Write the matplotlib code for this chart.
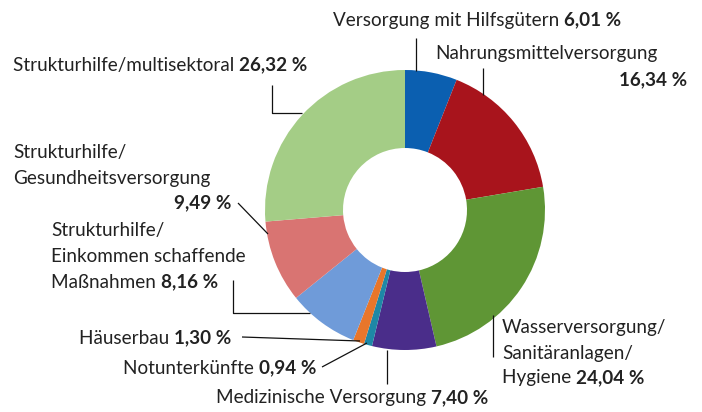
import matplotlib
matplotlib.use("Agg")
import matplotlib.pyplot as plt

# ---- data ----
categories = [
    "Versorgung mit Hilfsgütern",
    "Nahrungsmittelversorgung",
    "Wasserversorgung/Sanitäranlagen/Hygiene",
    "Medizinische Versorgung",
    "Notunterkünfte",
    "Häuserbau",
    "Strukturhilfe/Einkommen schaffende Maßnahmen",
    "Strukturhilfe/Gesundheitsversorgung",
    "Strukturhilfe/multisektoral",
]
values = [6.01, 16.34, 24.04, 7.40, 0.94, 1.30, 8.16, 9.49, 26.32]
value_labels = ["6,01 %", "16,34 %", "24,04 %", "7,40 %", "0,94 %",
                "1,30 %", "8,16 %", "9,49 %", "26,32 %"]

colors = ["#0b5fb0", "#a8141c", "#5f9635", "#4a2d8a", "#1e88a6",
          "#e8762b", "#6f9bd9", "#d97472", "#a4cd86"]

FONT = ["Lato", "DejaVu Sans"]
FS = 13.6
TXT = "#222222"
W, H = 702, 412

fig = plt.figure(figsize=(W / 100, H / 100), dpi=100)
ax = fig.add_axes([0, 0, 1, 1])

def Y(y):
    return H - y

cx, cy, R, r_in = 405, 210, 140, 62
ax.pie(values, colors=colors, startangle=90, counterclock=False,
       radius=R, center=(cx, Y(cy)), frame=True,
       wedgeprops=dict(width=R - r_in, edgecolor="none", linewidth=0,
                       antialiased=True))
ax.set_xlim(0, W)
ax.set_ylim(0, H)
ax.set_aspect("equal")
ax.axis("off")

def label(x, y, lines, bold, ha="left", step=26):
    """lines: list of normal-text lines; bold appended to last line."""
    n = len(lines)
    for i, ln in enumerate(lines):
        yy = y + i * step
        if i < n - 1 or bold is None:
            ax.text(x, Y(yy), ln, fontsize=FS, family=FONT, color=TXT,
                    ha=ha, va="center")
        else:
            if ln:
                t = ax.text(x, Y(yy), ln + " ", fontsize=FS, family=FONT,
                            color=TXT, ha="left", va="center")
                ax.annotate(bold, xy=(1, 0), xycoords=t, fontsize=FS,
                            family=FONT, weight="bold", color=TXT,
                            ha="left", va="bottom")
            else:
                ax.text(x, Y(yy), bold, fontsize=FS, family=FONT,
                        weight="bold", color=TXT, ha=ha, va="center")

def leader(pts):
    xs = [p[0] for p in pts]
    ys = [Y(p[1]) for p in pts]
    ax.plot(xs, ys, color="#111111", lw=0.9, solid_capstyle="butt")

# labels
label(333, 20, ["Versorgung mit Hilfsgütern"], value_labels[0])
label(435, 53, ["Nahrungsmittelversorgung"], None)
label(687, 80, [""], value_labels[1], ha="right")
label(502, 328, ["Wasserversorgung/", "Sanitäranlagen/", "Hygiene"], value_labels[2], step=25)
label(216, 398, ["Medizinische Versorgung"], value_labels[3])
label(123, 368, ["Notunterkünfte"], value_labels[4])
label(79, 338, ["Häuserbau"], value_labels[5])
label(51, 230, ["Strukturhilfe/", "Einkommen schaffende", "Maßnahmen"], value_labels[6])
label(13, 152, ["Strukturhilfe/", "Gesundheitsversorgung"], None)
label(231, 203, [""], value_labels[7], ha="right")
label(13, 65, ["Strukturhilfe/multisektoral"], value_labels[8])

# leader lines (layout)
leader([(416, 38), (416, 71)])
leader([(483, 68), (483, 95)])
leader([(493, 315), (493, 357)])
leader([(387, 350), (387, 384)])
leader([(322, 367), (367, 343)])
leader([(242, 337), (360, 341)])
leader([(233, 280), (233, 313), (310, 313)])
leader([(238, 203), (268, 234)])
leader([(272, 85), (272, 113), (302, 113)])

fig.savefig("out.png", dpi=100)
